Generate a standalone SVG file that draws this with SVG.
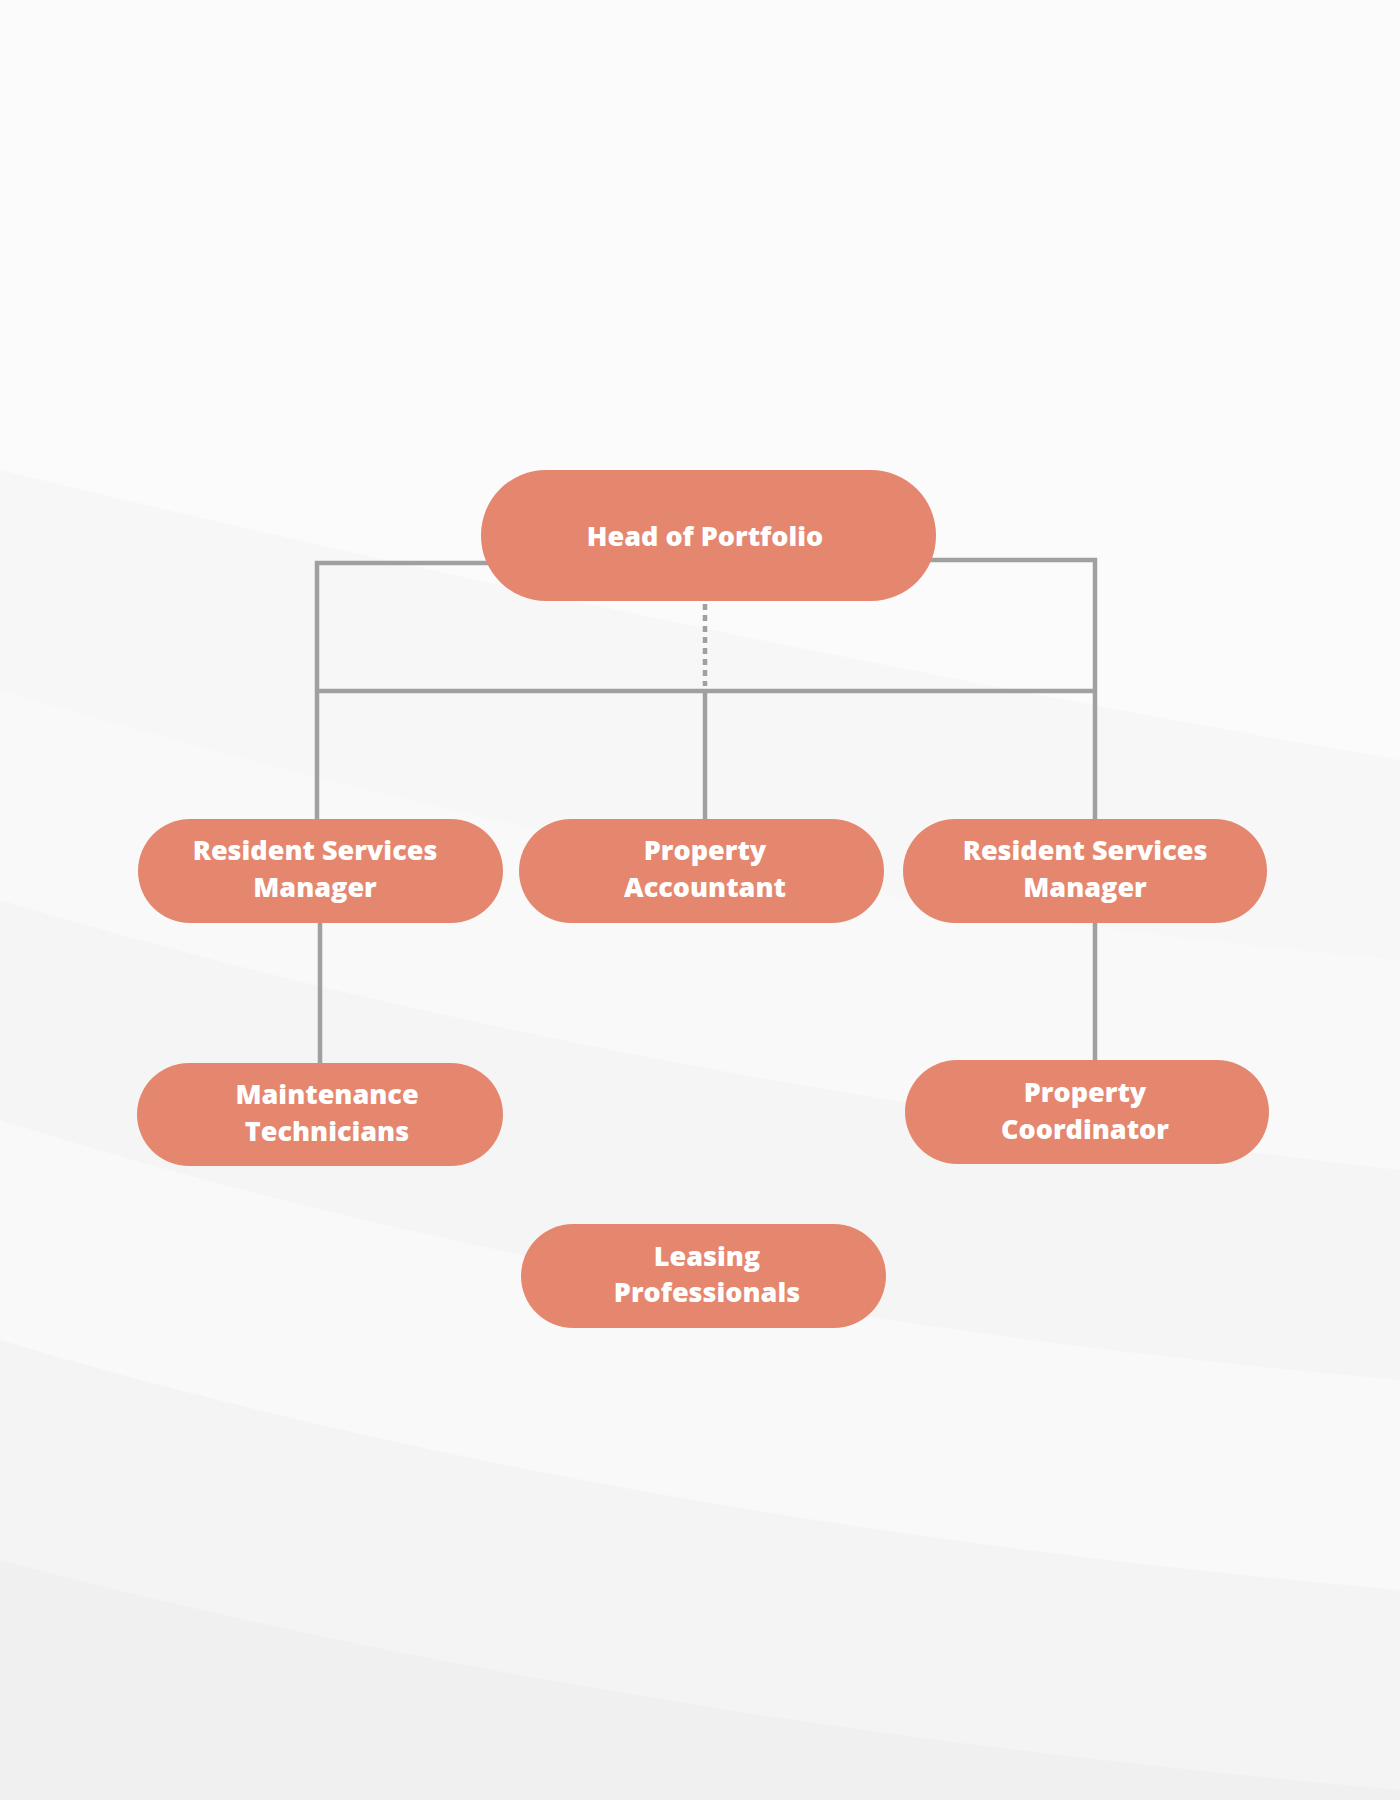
<svg xmlns="http://www.w3.org/2000/svg" width="1400" height="1800" viewBox="0 0 1400 1800">
<style>
.n{fill:#E5876F}
.t{font-family:"Open Sans","Liberation Sans",sans-serif;font-weight:800;fill:#fff;text-anchor:middle;font-size:27px}
.c{stroke:#A0A0A0;stroke-width:4.5;fill:none}
</style>
<rect width="1400" height="1800" fill="#fbfbfb"/>
<g fill="#f3f3f3">
<path d="M0 470 Q700 640 1400 760 L1400 1800 L0 1800Z" fill="#f7f7f7"/>
<path d="M0 690 Q700 900 1400 960 L1400 1800 L0 1800Z" fill="#f9f9f9"/>
<path d="M0 900 Q600 1080 1400 1170 L1400 1800 L0 1800Z" fill="#f5f5f5"/>
<path d="M0 1120 Q600 1310 1400 1380 L1400 1800 L0 1800Z" fill="#f9f9f9"/>
<path d="M0 1340 Q600 1520 1400 1590 L1400 1800 L0 1800Z" fill="#f4f4f4"/>
<path d="M0 1560 Q600 1720 1400 1790 L1400 1800 L0 1800Z" fill="#f0f0f0"/>
</g>
<g id="connectors">
<polyline class="c" points="490,563 317,563 317,819"/>
<polyline class="c" points="925,560 1095,560 1095,819"/>
<line class="c" x1="317" y1="691" x2="1095" y2="691"/>
<line class="c" x1="705" y1="604" x2="705" y2="686" stroke-dasharray="6,5"/>
<line class="c" x1="705" y1="691" x2="705" y2="819"/>
<line class="c" x1="320" y1="923" x2="320" y2="1063"/>
<line class="c" x1="1095" y1="923" x2="1095" y2="1060"/>
</g>
<g id="head"><rect class="n" x="481" y="470" width="455" height="131" rx="65"/><text class="t" x="705" y="546" font-size="32">Head of Portfolio</text></g>
<g id="rsm1"><rect class="n" x="138" y="819" width="365" height="104" rx="52"/><text class="t" x="315" y="860">Resident Services</text><text class="t" x="315" y="897">Manager</text></g>
<g id="pa"><rect class="n" x="519" y="819" width="365" height="104" rx="52"/><text class="t" x="705" y="860">Property</text><text class="t" x="705" y="897">Accountant</text></g>
<g id="rsm2"><rect class="n" x="903" y="819" width="364" height="104" rx="52"/><text class="t" x="1085" y="860">Resident Services</text><text class="t" x="1085" y="897">Manager</text></g>
<g id="mt"><rect class="n" x="137" y="1063" width="366" height="103" rx="52"/><text class="t" x="327" y="1104">Maintenance</text><text class="t" x="327" y="1141">Technicians</text></g>
<g id="pc"><rect class="n" x="905" y="1060" width="364" height="104" rx="52"/><text class="t" x="1085" y="1102">Property</text><text class="t" x="1085" y="1139">Coordinator</text></g>
<g id="lp"><rect class="n" x="521" y="1224" width="365" height="104" rx="52"/><text class="t" x="707" y="1266">Leasing</text><text class="t" x="707" y="1302">Professionals</text></g>
</svg>
